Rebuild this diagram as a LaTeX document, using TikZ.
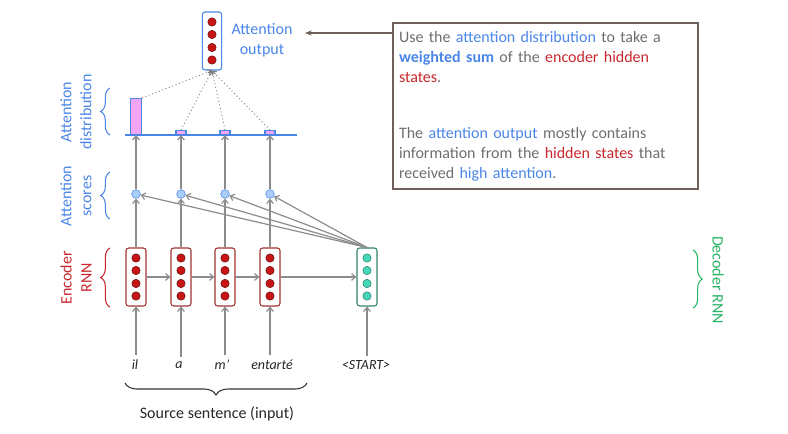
\documentclass[tikz,border=0pt]{standalone}
\usepackage{fontspec}
\setmainfont{Carlito}
\usepackage{xcolor}
\usetikzlibrary{arrows.meta,positioning,decorations.pathreplacing}
\definecolor{attblue}{RGB}{74,134,232}
\definecolor{encred}{RGB}{200,40,45}
\definecolor{encdark}{RGB}{160,50,50}
\definecolor{dotred}{RGB}{200,20,20}
\definecolor{dotdark}{RGB}{110,20,20}
\definecolor{decteal}{RGB}{50,130,110}
\definecolor{dotteal}{RGB}{70,215,185}
\definecolor{decgreen}{RGB}{40,180,100}
\definecolor{arrowgrey}{RGB}{140,140,140}
\definecolor{boxbrown}{RGB}{110,95,90}
\definecolor{textgrey}{RGB}{110,110,110}
\definecolor{barpink}{RGB}{245,165,245}
\definecolor{scorefill}{RGB}{170,205,250}

\begin{document}
\begin{tikzpicture}[
    x=0.75pt, y=-0.75pt,
    font=\fontsize{12}{15}\selectfont,
    rnnbox/.style={rectangle, rounded corners=2pt, thick, fill=white,
                   minimum width=15pt, minimum height=43.5pt, inner sep=0pt},
    encbox/.style={rnnbox, draw=encdark},
    decbox/.style={rnnbox, draw=decteal},
    outbox/.style={rnnbox, draw=attblue, minimum width=14.5pt},
    encdot/.style={circle, draw=dotdark, fill=dotred, minimum size=6.3pt, inner sep=0pt},
    decdot/.style={encdot, draw=decteal, fill=dotteal},
    score/.style={circle, draw=attblue, fill=scorefill, minimum size=6.5pt, inner sep=0pt},
    bar/.style={rectangle, draw=attblue, fill=barpink, thick, inner sep=0pt, anchor=south},
    arrow/.style={-{Straight Barb[length=3pt,width=5pt]}, arrowgrey, line width=0.9pt},
    weight/.style={-{Straight Barb[length=2.5pt,width=4pt]}, arrowgrey!90!black,
                   dotted, line width=0.7pt},
    brace/.style={decorate, decoration={brace, amplitude=7pt}, thick},
    word/.style={font=\fontsize{10.5}{12}\selectfont\itshape, text=black!85},
    infobox/.style={rectangle, draw=boxbrown, line width=1.5pt, text width=220pt,
                    inner xsep=4.5pt, minimum height=124.5pt, align=left,
                    anchor=north west, text=textgrey}
]
\useasboundingbox (0,0) rectangle (788,433);

% encoder, decoder and attention output
\node[encbox] (enc1) at (136,277) {};
\node[encbox] (enc2) at (181,277) {};
\node[encbox] (enc3) at (225,277) {};
\node[encbox] (enc4) at (270,277) {};
\node[decbox] (dec) at (367,277) {};
\node[outbox] (out) at (212,41) {};
\foreach \n in {enc1,enc2,enc3,enc4,out}
  \foreach \d [count=\k] in {-19,-6.5,6.5,19}
    \node[encdot] (\n dot\k) at ([yshift=\d*0.75pt]\n.center) {};
\foreach \d [count=\k] in {-19,-6.5,6.5,19}
  \node[decdot] (decdot\k) at ([yshift=\d*0.75pt]dec.center) {};

% scores and distribution
\node[score] (s1) at (136,194) {};
\node[score] (s2) at (181,194) {};
\node[score] (s3) at (225,194) {};
\node[score] (s4) at (270,194) {};
\draw[attblue, thick] (125,135) -- (297,135);
\node[bar, minimum width=8.25pt, minimum height=27pt] (b1) at (136,135) {};
\node[bar, minimum width=7.5pt, minimum height=3pt] (b2) at (181,135) {};
\node[bar, minimum width=7.5pt, minimum height=3pt] (b3) at (225,135) {};
\node[bar, minimum width=7.5pt, minimum height=3pt] (b4) at (270,135) {};

% input words
\node[word] (w1) at (135,365) {il};
\node[word] (w2) at (179,365) {a};
\node[word] (w3) at (222,365) {m’};
\node[word] (w4) at (272,365) {entarté};
\node[word] (wstart) at (366,365) {<START>};

\draw[arrow] (enc1 |- w1.north) -- (enc1);
\draw[arrow] (enc2 |- w2.north) -- (enc2);
\draw[arrow] (enc3 |- w3.north) -- (enc3);
\draw[arrow] (enc4 |- w4.north) -- (enc4);
\draw[arrow] (dec |- wstart.north) -- (dec);
\draw[arrow] (enc1) -- (enc2);
\draw[arrow] (enc2) -- (enc3);
\draw[arrow] (enc3) -- (enc4);
\draw[arrow] (enc4) -- (dec);

\draw[arrow] (enc1) -- (s1);
\draw[arrow] (enc2) -- (s2);
\draw[arrow] (enc3) -- (s3);
\draw[arrow] (enc4) -- (s4);
\draw[arrow] (dec.north) -- (s1);
\draw[arrow] (dec.north) -- (s2);
\draw[arrow] (dec.north) -- (s3);
\draw[arrow] (dec.north) -- (s4);
\draw[arrow] (s1) -- (b1.south);
\draw[arrow] (s2) -- (b2.south);
\draw[arrow] (s3) -- (b3.south);
\draw[arrow] (s4) -- (b4.south);

\draw[weight] (b1.north east) -- (out.south);
\draw[weight] (b2.north) -- (out.south);
\draw[weight] (b3.north) -- (out.south);
\draw[weight] (b4.north) -- (out.south);

% labels and braces
\node[align=center, text=attblue] (outlabel) at (262,40) {Attention\\output};
\node[rotate=90, align=center, text=attblue] (distlabel) at (76,112) {Attention\\distribution};
\node[rotate=90, align=center, text=attblue] (scorelabel) at (76,196) {Attention\\scores};
\node[rotate=90, align=center, text=encred] (enclabel) at (76,278) {Encoder\\RNN};
\node[rotate=-90, text=decgreen] (declabel) at (718,280) {Decoder RNN};
\draw[brace, attblue] (110,135) -- (110,88);
\draw[brace, attblue] (110,219) -- (110,172);
\draw[brace, encred] (110,307) -- (110,248);
\draw[brace, decgreen] (693,250) -- (693,308);
\draw[brace, black!80, decoration={amplitude=9pt}] (307,383) -- (125,383);
\node[text=black!85] (src) at (217,414) {Source sentence (input)};

% explanation box
\node[infobox] (info) at (392,22) {Use the \textcolor{attblue}{attention distribution} to take a\\
  \textcolor{attblue}{\textbf{weighted sum}} of the \textcolor{encred}{encoder hidden}\\
  \textcolor{encred}{states}.\\[27pt]
  The \textcolor{attblue}{attention output} mostly contains\\
  information from the \textcolor{encred}{hidden states} that\\
  received \textcolor{attblue}{high attention}.};
\coordinate (outtip) at (305,33);
\draw[-{Stealth[length=5pt]}, boxbrown, thick] (info.west |- outtip) -- (outtip);
\end{tikzpicture}
\end{document}
